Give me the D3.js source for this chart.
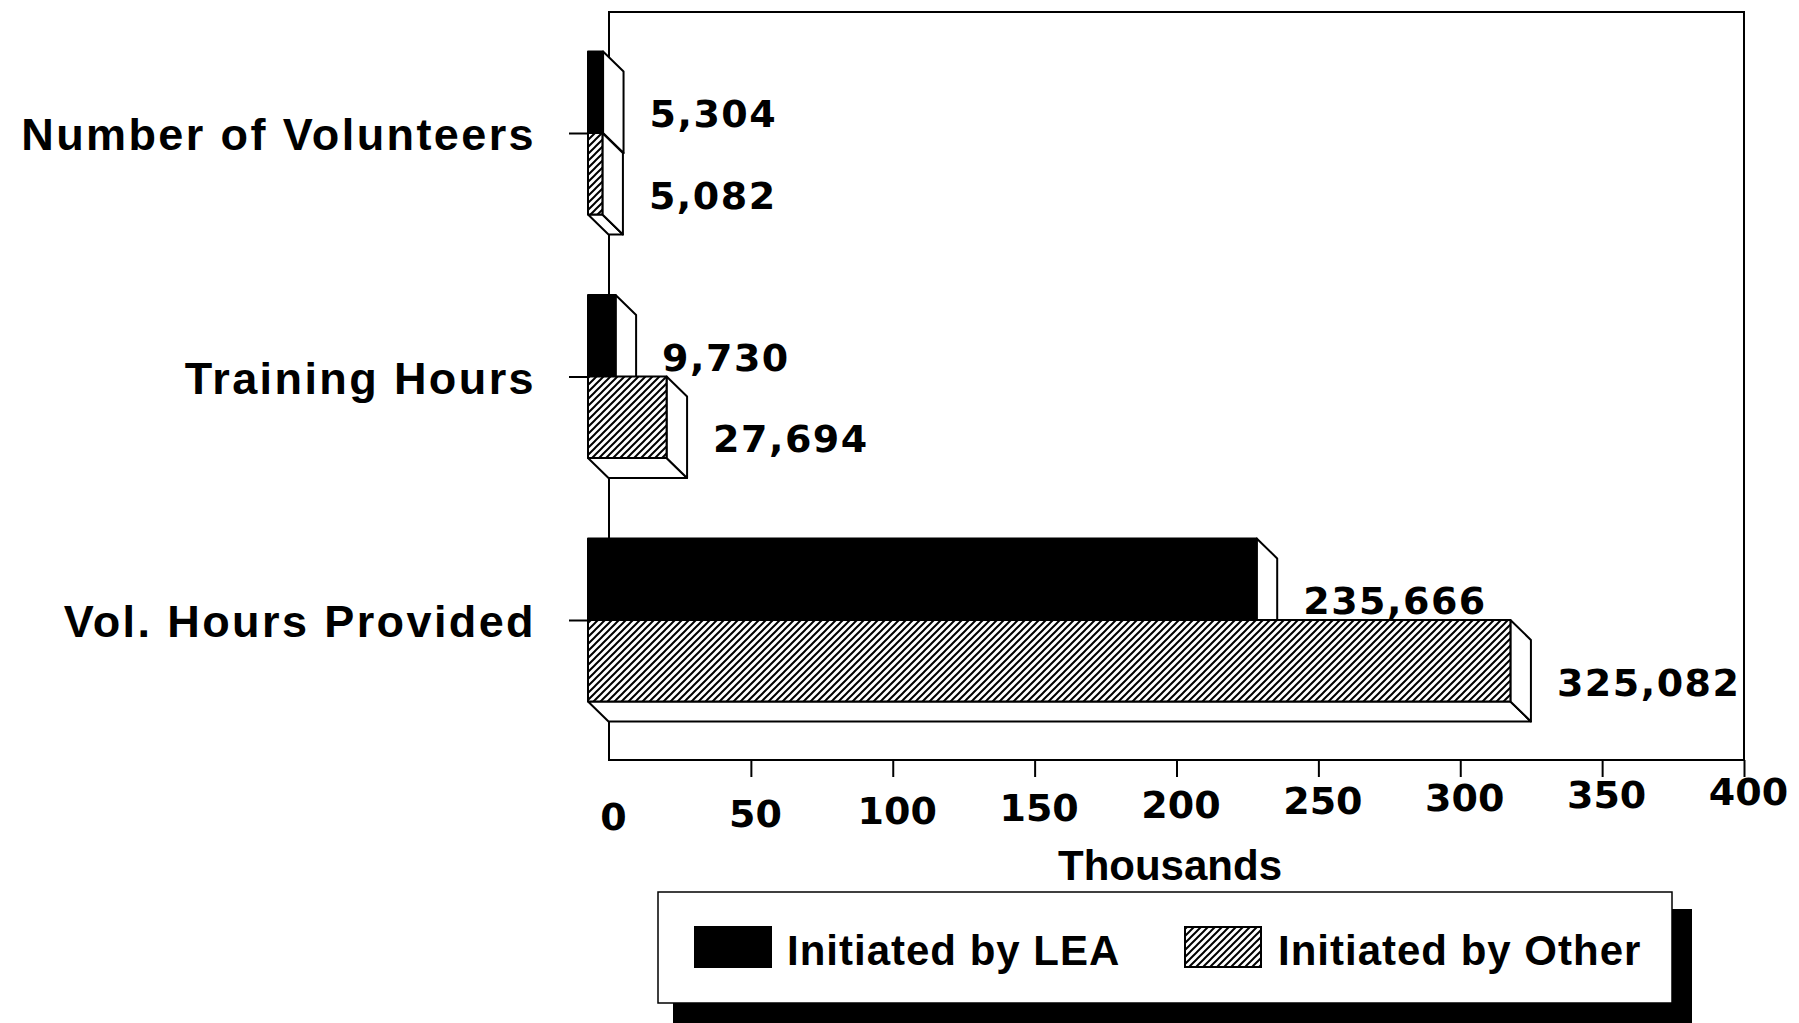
<!DOCTYPE html>
<html>
<head>
<meta charset="utf-8">
<script src="https://cdn.jsdelivr.net/npm/d3@7"></script>
<style>
  html, body { margin: 0; padding: 0; background: #fff; }
  svg { display: block; }
</style>
</head>
<body>
<script>
// ---- data ----
const categories = ["Number of Volunteers", "Training Hours", "Vol. Hours Provided"];
const leaValues = [5.304, 9.730, 235.666];      // thousands
const otherValues = [5.082, 27.694, 325.082];   // thousands
const xTicks = [0, 50, 100, 150, 200, 250, 300, 350, 400];
const seriesNames = ["Initiated by LEA", "Initiated by Other"];
const axisTitle = "Thousands";

// ---- layout ----
const W = 1799, Hh = 1023;
const svg = d3.select("body").append("svg").attr("width", W).attr("height", Hh);

const defs = svg.append("defs");
const pat = defs.append("pattern").attr("id", "hatch")
  .attr("patternUnits", "userSpaceOnUse").attr("width", 7).attr("height", 7);
pat.append("rect").attr("width", 7).attr("height", 7).attr("fill", "#fff");
pat.append("path").attr("d", "M0,7 L7,0 M-2,2 L2,-2 M5,9 L9,5")
  .attr("stroke", "#000").attr("stroke-width", 2);

const x = d3.scaleLinear().domain([0, 400]).range([609, 1744]);
const y = d3.scalePoint().domain(categories).range([133, 620]);
const BAR_H = 81.5, DX = 20.5, DY = 20, FRONT = -21;
const plotTop = 12, plotBottom = 760;

const numFont = "'DejaVu Sans', sans-serif";
const txtFont = "'Liberation Sans', Arial, sans-serif";

// plot frame (back wall)
svg.append("rect")
  .attr("x", x(0)).attr("y", plotTop)
  .attr("width", x(400) - x(0)).attr("height", plotBottom - plotTop)
  .attr("fill", "none").attr("stroke", "#000").attr("stroke-width", 2);

// x axis
const xAxis = svg.append("g").attr("transform", `translate(0,${plotBottom})`)
  .call(d3.axisBottom(x).tickValues(xTicks).tickSize(17).tickFormat(d3.format("d")));
xAxis.select(".domain").remove();
xAxis.selectAll(".tick line").attr("stroke", "#000").attr("stroke-width", 2)
  .style("display", d => d === 0 ? "none" : null);
xAxis.selectAll(".tick text")
  .attr("font-family", numFont).attr("font-weight", "bold").attr("font-size", 38)
  .attr("fill", "#000").attr("dy", 0).attr("x", 4)
  .attr("y", d => 830 - (x(d) - x(0)) * 0.022 - plotBottom);

svg.append("text").text(axisTitle)
  .attr("x", 1170).attr("y", 880).attr("text-anchor", "middle")
  .attr("font-family", txtFont).attr("font-weight", "bold").attr("font-size", 42);

// y axis (on the front plane)
const yAxis = svg.append("g").attr("transform", `translate(${x(0) + FRONT},0)`)
  .call(d3.axisLeft(y).tickSize(19).tickPadding(33));
yAxis.select(".domain").remove();
yAxis.selectAll(".tick line").attr("stroke", "#000").attr("stroke-width", 2);
yAxis.selectAll(".tick text")
  .attr("font-family", txtFont).attr("font-weight", "bold").attr("font-size", 45)
  .attr("letter-spacing", "2.4px").attr("fill", "#000").attr("dy", "0.37em");

// 3D bars
const fmt = v => d3.format(",")(Math.round(v * 1000));
function bar3d(g, v, top, fill, label) {
  const x0 = x(0) + FRONT, x1 = x(v) + FRONT, bot = top + BAR_H;
  const st = { stroke: "#000", "stroke-width": 2, "stroke-linejoin": "round" };
  const bottom = g.append("path")
    .attr("d", `M${x0},${bot} L${x1},${bot} L${x1 + DX},${bot + DY} L${x0 + DX},${bot + DY} Z`)
    .attr("fill", "#fff");
  const side = g.append("path")
    .attr("d", `M${x1},${top} L${x1 + DX},${top + DY} L${x1 + DX},${bot + DY} L${x1},${bot} Z`)
    .attr("fill", "#fff");
  const front = g.append("rect").attr("x", x0).attr("y", top)
    .attr("width", x1 - x0).attr("height", BAR_H).attr("fill", fill);
  [bottom, side, front].forEach(s => Object.entries(st).forEach(([k, val]) => s.attr(k, val)));
  g.append("text").text(label)
    .attr("x", x1 + DX + 26).attr("y", bot - 6)
    .attr("font-family", numFont).attr("font-weight", "bold").attr("font-size", 38)
    .attr("letter-spacing", "1.5px").attr("fill", "#000");
}

const barsG = svg.append("g");
categories.forEach((c, i) => {
  const g = barsG.append("g");
  bar3d(g, leaValues[i], y(c) - BAR_H, "#000", fmt(leaValues[i]));
  bar3d(g, otherValues[i], y(c), "url(#hatch)", fmt(otherValues[i]));
});

// legend
const lg = svg.append("g");
lg.append("rect").attr("x", 673).attr("y", 909).attr("width", 1692 - 673).attr("height", 130).attr("fill", "#000");
lg.append("rect").attr("x", 658).attr("y", 892).attr("width", 1672 - 658).attr("height", 1003 - 892)
  .attr("fill", "#fff").attr("stroke", "#000").attr("stroke-width", 1.5);
const legendItems = [
  { name: seriesNames[0], fill: "#000", sx: 695, tx: 787 },
  { name: seriesNames[1], fill: "url(#hatch)", sx: 1185, tx: 1278 }
];
legendItems.forEach(it => {
  lg.append("rect").attr("x", it.sx).attr("y", 927).attr("width", 76).attr("height", 40)
    .attr("fill", it.fill).attr("stroke", "#000").attr("stroke-width", 2);
  lg.append("text").text(it.name).attr("x", it.tx).attr("y", 965)
    .attr("font-family", txtFont).attr("font-weight", "bold").attr("font-size", 42)
    .attr("letter-spacing", "1px");
});
</script>
</body>
</html>
